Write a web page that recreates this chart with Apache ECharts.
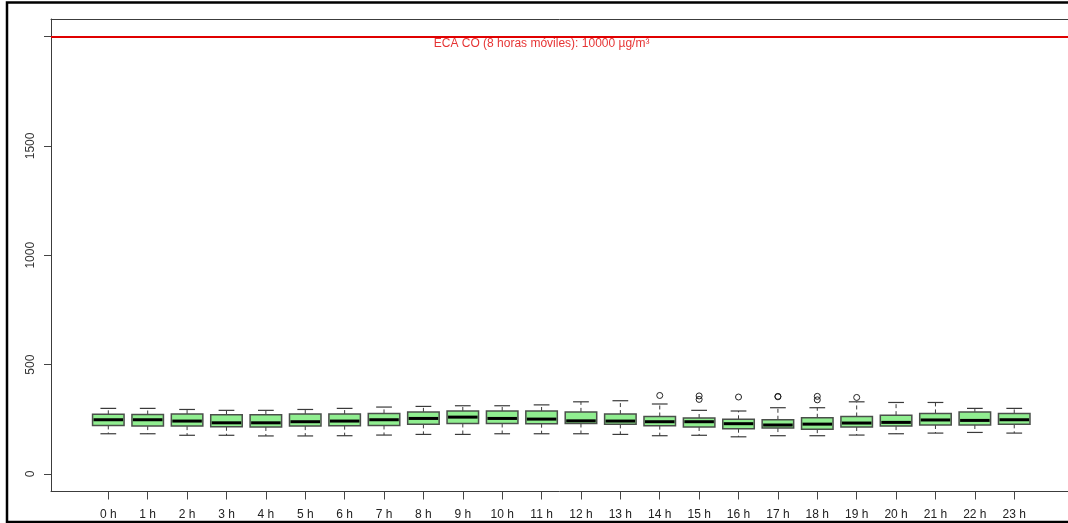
<!DOCTYPE html>
<html>
<head>
<meta charset="utf-8">
<script src="https://cdn.jsdelivr.net/npm/echarts@6/dist/echarts.min.js"></script>
<style>
html,body{margin:0;padding:0;background:#fff;}
#chart{width:1068px;height:523px;}
</style>
</head>
<body>
<div id="chart"></div>
<script>
// ---- data ----
const hours = ['0 h','1 h','2 h','3 h','4 h','5 h','6 h','7 h','8 h','9 h','10 h','11 h','12 h','13 h','14 h','15 h','16 h','17 h','18 h','19 h','20 h','21 h','22 h','23 h'];
const whiskerLow  = [184,184,177,177,174,174,175,178,181,181,184,184,184,181,175,177,170,175,175,178,184,187,190,187];
const q1          = [222,219,219,216,215,219,221,222,227,231,231,230,231,227,221,215,207,210,205,215,219,224,224,227];
const median      = [248,248,242,234,234,239,242,248,254,260,254,251,243,242,239,239,230,224,228,233,236,247,245,248];
const q3          = [273,272,274,271,271,274,274,277,284,288,288,288,284,274,263,256,250,248,257,263,269,277,284,277];
const whiskerHigh = [300,300,295,291,291,295,300,306,309,312,312,316,330,335,320,291,288,303,303,330,327,327,300,300];
const outlierHour  = [14,15,15,16,17,17,18,18,19];
const outlierValue = [359,357,341,352,353,355,355,339,350];
const yTicks  = [0,500,1000,1500,2000];
const yLabels = [0,500,1000,1500];
const limitValue = 2000;
const limitText = 'ECA CO (8 horas móviles): 10000 µg/m³';
const limitTextPos = [11, 1968];

const boxData = hours.map((h, i) => [i, whiskerLow[i], q1[i], median[i], q3[i], whiskerHigh[i]]);
const outlierData = outlierHour.map((h, i) => [h, outlierValue[i]]);
const hourIdx = hours.map((h, i) => i);

const FONT = '"Liberation Sans", Arial, sans-serif';
const FRAME = '#3c3c3c';
const chart = echarts.init(document.getElementById('chart'), null, {renderer: 'canvas'});

function renderBox(params, api) {
  const x = api.value(0);
  const lo = api.coord([x, api.value(1)]);
  const b1 = api.coord([x, api.value(2)]);
  const md = api.coord([x, api.value(3)]);
  const b3 = api.coord([x, api.value(4)]);
  const hi = api.coord([x, api.value(5)]);
  const w = api.size([0.8, 0])[0];
  const cx = lo[0];
  const wc = '#3a3a3a';
  return {
    type: 'group',
    children: [
      {type: 'line', shape: {x1: cx, y1: b3[1], x2: cx, y2: hi[1]}, style: {stroke: wc, lineWidth: 1, lineDash: [4, 3]}},
      {type: 'line', shape: {x1: cx, y1: b1[1], x2: cx, y2: lo[1]}, style: {stroke: wc, lineWidth: 1, lineDash: [4, 3]}},
      {type: 'line', shape: {x1: cx - w / 4, y1: hi[1], x2: cx + w / 4, y2: hi[1]}, style: {stroke: wc, lineWidth: 1.2}},
      {type: 'line', shape: {x1: cx - w / 4, y1: lo[1], x2: cx + w / 4, y2: lo[1]}, style: {stroke: wc, lineWidth: 1.2}},
      {type: 'rect', shape: {x: cx - w / 2, y: b3[1], width: w, height: b1[1] - b3[1]}, style: {fill: '#90EE90', stroke: '#4a4f4a', lineWidth: 1.5}},
      {type: 'line', shape: {x1: cx - w / 2 + 1, y1: md[1], x2: cx + w / 2 - 1, y2: md[1]}, style: {stroke: '#000', lineWidth: 3}}
    ]
  };
}

chart.setOption({
  animation: false,
  backgroundColor: '#fff',
  grid: {left: 51, top: 19, right: 0, bottom: 31.5, show: false},
  xAxis: [{
    type: 'value', min: -1.455, max: 24.365, position: 'bottom',
    axisLine: {show: true, onZero: false, lineStyle: {color: FRAME, width: 1}},
    splitLine: {show: false},
    axisTick: {show: true, customValues: hourIdx, length: 8, lineStyle: {color: '#444'}},
    axisLabel: {customValues: hourIdx, formatter: v => hours[Math.round(v)], margin: 17, fontSize: 12, color: '#222', fontFamily: FONT}
  }, {
    type: 'value', min: -1.455, max: 24.365, position: 'top',
    axisLine: {show: true, onZero: false, lineStyle: {color: FRAME, width: 1}},
    splitLine: {show: false}, axisTick: {show: false}, axisLabel: {show: false}
  }],
  yAxis: {
    type: 'value', min: -80, max: 2080,
    axisLine: {show: true, onZero: false, lineStyle: {color: FRAME, width: 1}},
    splitLine: {show: false},
    axisTick: {show: true, customValues: yTicks, length: 7, lineStyle: {color: '#444'}},
    axisLabel: {customValues: yLabels, formatter: v => String(v), rotate: 90, margin: 14, fontSize: 12, color: '#333', fontFamily: FONT}
  },
  graphic: [
    {type: 'rect', shape: {x: 7, y: 2.5, width: 1100, height: 519.5}, style: {fill: 'none', stroke: '#000', lineWidth: 2.5}, silent: true}
  ],
  series: [
    {type: 'custom', renderItem: renderBox, data: boxData, encode: {x: 0, y: [1, 2, 3, 4, 5]}, z: 3},
    {type: 'scatter', data: outlierData, symbol: 'circle', symbolSize: 6, itemStyle: {color: 'rgba(255,255,255,0)', borderColor: '#222', borderWidth: 1, opacity: 1}, z: 4},
    {
      type: 'scatter', data: [limitTextPos], symbolSize: 0, silent: true,
      label: {show: true, position: 'inside', formatter: limitText, color: '#e00000', fontSize: 12, fontFamily: FONT},
      markLine: {silent: true, symbol: ['none', 'none'], label: {show: false}, lineStyle: {color: '#e00000', width: 2, type: 'solid'}, data: [{yAxis: limitValue}]},
      z: 5
    }
  ]
});
</script>
</body>
</html>
